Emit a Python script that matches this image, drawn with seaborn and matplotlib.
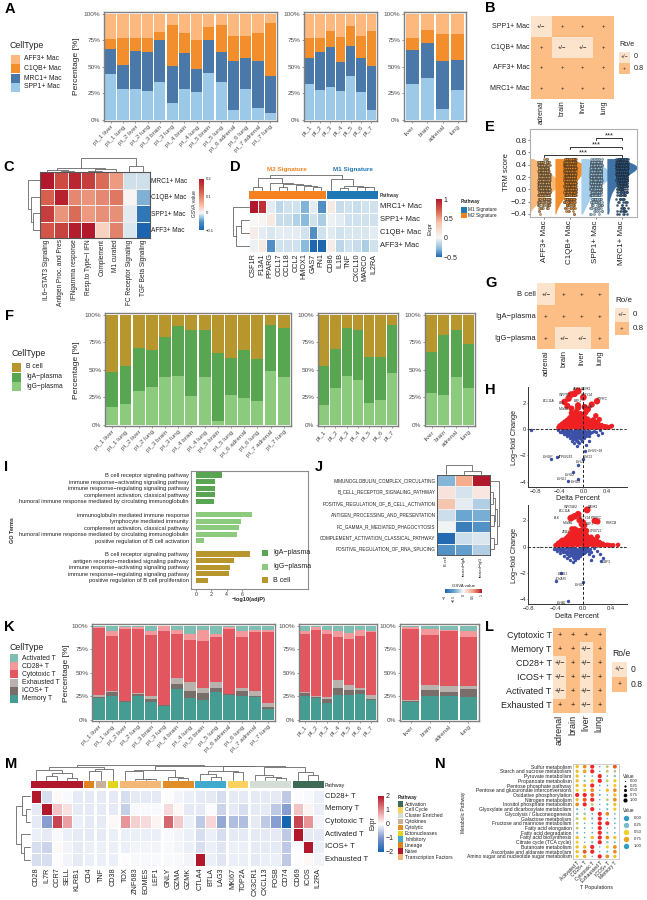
import numpy as np
import pandas as pd
import matplotlib
matplotlib.use("Agg")
import matplotlib.pyplot as plt
import seaborn as sns
from matplotlib.colors import LinearSegmentedColormap
from matplotlib.patches import Rectangle

W, H = 647, 900

# ---------- sample labels ----------
PT_TISSUE = ["pt_1 liver", "pt_1 lung", "pt_2 liver", "pt_2 lung", "pt_3 brain", "pt_3 lung", "pt_4 brain",
             "pt_4 lung", "pt_5 brain", "pt_5 lung", "pt_6 adrenal", "pt_6 lung", "pt_7 adrenal", "pt_7 lung"]
PATIENTS = ["pt_1", "pt_2", "pt_3", "pt_4", "pt_5", "pt_6", "pt_7"]
TISSUES = ["liver", "brain", "adrenal", "lung"]
RO_COLS = ["adrenal", "brain", "liver", "lung"]

# ---------- A: macrophage composition, cumulative tops from the bottom ----------
MAC_NAMES = ["SPP1+ Mac", "MRC1+ Mac", "C1QB+ Mac", "AFF3+ Mac"]
MAC_COLORS = ["#9DC9E8", "#4A78A8", "#F28E2B", "#FDB97D"]
A_SPP1 = [43, 29, 29, 27, 36, 16, 29, 26, 44, 36, 9, 29, 11, 6]
A_MRC1 = [67, 52, 65, 64, 75, 51, 63, 48, 75, 64, 55, 58, 55, 41]
A_C1QB = [76, 77, 77, 77, 83, 89, 82, 75, 87, 89, 79, 79, 82, 91]
A_PAT_SPP1 = [34, 28, 31, 27, 41, 26, 9]
A_PAT_MRC1 = [58, 64, 69, 54, 70, 58, 51]
A_PAT_C1QB = [77, 77, 84, 78, 88, 79, 84]
A_TIS_SPP1 = [34, 39, 10, 28]
A_TIS_MRC1 = [66, 72, 55, 56]
A_TIS_C1QB = [77, 85, 81, 81]

# ---------- F: B lineage composition ----------
B_NAMES = ["IgG\u2212plasma", "IgA\u2212plasma", "B cell"]
B_COLORS = ["#8CCB7E", "#58A552", "#B8962E"]
F_IGG = [16, 18.5, 31, 34.5, 43.5, 44.5, 26, 43, 3, 27, 24.5, 21.5, 49, 43]
F_IGA = [48, 53, 70, 68, 80, 89.5, 86.5, 86, 65.5, 60.5, 67.5, 60, 91, 87.5]
F_PAT_IGG = [18, 33.5, 44.5, 41, 20, 22, 47]
F_PAT_IGA = [53, 69, 87.5, 86.5, 62, 62, 90.5]
F_TIS_IGG = [29, 26.6, 43, 33]
F_TIS_IGA = [66, 81.6, 86, 73]

# ---------- K: T cell composition ----------
T_NAMES = ["Memory T", "ICOS+ T", "Exhausted T", "Cytotoxic T", "CD28+ T", "Activated T"]
T_COLORS = ["#459C92", "#7A6E6B", "#B9B1AB", "#E2565F", "#F4999B", "#7FBFB3"]
K_MEM = [23, 25, 19, 25, 19, 14.5, 33, 23, 21, 30, 26, 25, 24, 12]
K_ICOS = [24, 30, 20, 27, 22, 15.5, 38, 31, 28, 34, 27, 31, 25, 13.5]
K_EXH = [26, 31, 20.5, 28, 25, 15.8, 44, 40, 34, 40, 27.5, 34, 31, 17.7]
K_CYT = [97.5, 89, 96, 96, 90, 94, 91, 85, 84, 88, 96, 87.5, 93.5, 93.5]
K_CD28 = [98.5, 94, 98, 98, 94, 99, 95, 91, 95, 91, 98, 94, 95, 95]
K_PAT_MEM = [25.5, 23.3, 18.4, 26, 26, 27, 21]
K_PAT_ICOS = [28, 24.3, 22.5, 34, 32, 31.7, 22]
K_PAT_EXH = [30, 25.7, 24, 42, 37, 34, 26]
K_PAT_CYT = [90.5, 95.5, 91, 88, 86, 88.5, 93]
K_PAT_CD28 = [94.5, 98, 95, 94, 92, 95, 94.5]
K_TIS_MEM = [19, 25.5, 25, 24]
K_TIS_ICOS = [20, 32, 30, 33]
K_TIS_EXH = [21, 37, 36, 36]
K_TIS_CYT = [96, 90, 94, 88]
K_TIS_CD28 = [98, 96.5, 95, 94]

# ---------- Ro/e tables ----------
B_ROWS = ["SPP1+ Mac", "C1QB+ Mac", "AFF3+ Mac", "MRC1+ Mac"]
B_GRID = [["+/\u2212", "+", "+", "+"], ["+", "+/\u2212", "+/\u2212", "+"], ["+", "+", "+", "+"], ["+", "+", "+", "+"]]
G_ROWS = ["B cell", "IgA\u2212plasma", "IgG\u2212plasma"]
G_GRID = [["+/\u2212", "+", "+", "+"], ["+", "+", "+", "+"], ["+", "+/\u2212", "+/\u2212", "+"]]
L_ROWS = ["Cytotoxic T", "Memory T", "CD28+ T", "ICOS+ T", "Activated T", "Exhausted T"]
L_GRID = [["+", "+", "+", "+"], ["+", "+", "+/\u2212", "+"], ["+/\u2212", "+", "+/\u2212", "+"],
          ["+/\u2212", "+", "+/\u2212", "+"], ["+/\u2212", "+", "+/\u2212", "+"], ["+", "+", "+/\u2212", "+"]]

# ---------- C ----------
C_ROWS = ["MRC1+ Mac", "C1QB+ Mac", "SPP1+ Mac", "AFF3+ Mac"]
C_COLS = ["IL6\u2212STAT3 Signaling", "Antigen Proc. and Pres", "IFNgamma response", "Resp.to Type\u2212I IFN",
          "Complement", "M1 curated", "FC Receptor Signaling", "TGF Beta Signaling"]
C_VALUES = [[.2, .145, .185, .16, .115, .075, -.012, -.012],
            [.125, .19, .09, .08, .09, .105, .002, -.035],
            [.16, .08, .115, .075, .085, .085, -.006, -.08],
            [.135, .155, .195, .2, .03, .095, -.008, -.1]]

# ---------- D ----------
D_ROWS = ["MRC1+ Mac", "SPP1+ Mac", "C1QB+ Mac", "AFF3+ Mac"]
D_COLS = ["CSF1R", "F13A1", "PPARG", "CCL17", "CCL18", "CCL2", "HMOX1", "GAS7", "FN1",
          "CD86", "IL1B", "TNF", "CXCL10", "MARCO", "IL2RA"]
D_VALUES = [[1, .9, -.05, -.15, -.1, -.1, -.3, -.05, -.4, .1, -.12, -.1, -.12, -.1, -.1],
            [0, .02, .1, -.12, -.12, -.18, -.28, -.1, -.2, -.03, -.05, -.1, -.1, -.1, -.1],
            [.08, -.05, -.08, -.05, -.05, -.05, -.1, -.4, -.1, -.06, -.1, -.08, -.08, -.08, -.05],
            [-.03, .1, -.4, -.1, -.1, -.1, -.28, -.5, -.6, .08, -.15, -.1, -.12, -.2, -.1]]

# ---------- E: counts of cells per TRM score level, read from the clouds ----------
E_CATS = ["AFF3+ Mac", "C1QB+ Mac", "SPP1+ Mac", "MRC1+ Mac"]
E_COLORS = ["#F8B878", "#F28E2B", "#A5CFEC", "#3F72A6"]
E_DOTS = ["#D2A05F", "#DE8526", "#9CC3DE", "#2C5A88"]
E_LEVELS = [-.40, -.35, -.30, -.25, -.20, -.15, -.10, -.05, 0, .05, .10, .15, .20, .25, .30, .35, .40, .45, .50]
E_AFF3 = [1, 2, 8, 14, 20, 28, 36, 42, 50, 58, 62, 58, 50, 42, 36, 30, 26, 22, 4]
E_C1QB = [2, 4, 8, 12, 18, 24, 30, 36, 42, 50, 56, 62, 68, 74, 82, 86, 84, 80, 30]
E_SPP1 = [4, 6, 10, 12, 16, 20, 24, 28, 34, 40, 48, 56, 64, 68, 62, 50, 42, 36, 8]
E_MRC1 = [5, 8, 6, 4, 6, 8, 10, 14, 18, 24, 30, 38, 48, 60, 76, 88, 84, 64, 20]
E_BRACKETS = [(0, 3, .556), (1, 3, .686), (2, 3, .83)]

# ---------- H ----------
H1_RED = [(-.09, 2.87), (-.15, 2.67), (-.21, 2.6), (-.25, 2.3), (-.32, 2.05), (0, 2.4), (.14, 1.85), (.23, 2.1),
          (-.27, 1.75), (-.2, 1.55), (-.09, 1.8), (-.09, 1.6), (.02, 1.67), (.08, 1.5), (.03, 1.2), (.21, 1.0),
          (.27, .72), (-.2, 1.2), (.48, .22), (.39, .18), (-.12, 1.3), (.05, 1.35), (-.05, 1.15),
          (-.42, .12), (-.4, .25), (-.38, .18), (-.36, .38), (-.34, .12), (-.32, .3), (-.31, .55), (-.29, .15),
          (-.28, .42), (-.27, .68), (-.25, .22), (-.24, .52), (-.23, .85), (-.21, .12), (-.2, .36), (-.19, .66),
          (-.18, .95), (-.16, .2), (-.15, .5), (-.14, .8), (-.13, 1.02), (-.11, .12), (-.1, .35), (-.09, .62),
          (-.08, .9), (-.06, .22), (-.05, .48), (-.04, .75), (-.03, 1.0), (-.01, .14), (0, .38), (.01, .65),
          (.02, .88), (.04, .24), (.05, .5), (.07, .76), (.09, .12), (.1, .38), (.12, .62), (.14, .2), (.15, .44),
          (.17, .7), (.19, .12), (.2, .3), (.22, .52), (.24, .18), (.26, .36), (.29, .14), (.31, .28), (.34, .12),
          (.36, .2), (.42, .12), (.45, .16),
          (-.41, .08), (-.39, .1), (-.37, .3), (-.35, .22), (-.33, .45), (-.3, .1), (-.28, .28), (-.26, .55),
          (-.24, .34), (-.22, .7), (-.22, .1), (-.2, .5), (-.18, .25), (-.17, .78), (-.15, .12), (-.14, .36),
          (-.12, .62), (-.11, .9), (-.09, .22), (-.08, .48), (-.07, .75), (-.05, .1), (-.04, .34), (-.02, .6),
          (-.02, .88), (0, .14), (.01, .45), (.03, .72), (.04, .1), (.06, .34), (.08, .6), (.1, .2), (.11, .5),
          (.13, .1), (.15, .3), (.17, .52), (.18, .2), (.21, .12), (.23, .38), (.25, .1), (.28, .24), (.33, .2),
          (.38, .1), (.4, .14)]
H1_BLUE = [(-.17, -3.3), (-.26, -3.95), (-.09, -3.8), (-.55, -2.3), (-.09, -2.7), (0, -2.3), (-.45, -2.1),
           (.03, -1.7), (-.88, -.08), (.24, -.45), (.32, -.3), (.05, -1.25), (.1, -.9), (-.42, -.1), (-.38, -.25),
           (-.35, -.12), (-.33, -.4), (-.3, -.2), (-.28, -.55), (-.26, -.3), (-.25, -.12), (-.23, -.7), (-.22, -.45),
           (-.2, -.2), (-.19, -.9), (-.18, -.6), (-.17, -.35), (-.15, -1.1), (-.14, -.75), (-.13, -.5), (-.12, -.15),
           (-.11, -1.3), (-.1, -.9), (-.09, -.6), (-.08, -.3), (-.07, -1.05), (-.06, -.72), (-.05, -.42), (-.04, -.15),
           (-.03, -.95), (-.02, -.6), (-.01, -.3), (.01, -.72), (.02, -.42), (.03, -.15), (.05, -.55), (.06, -.25),
           (.08, -.38), (.1, -.14), (.12, -.3), (.15, -.2), (.18, -.12), (.22, -.25), (.28, -.1),
           (-.4, -.2), (-.36, -.08), (-.34, -.22), (-.32, -.1), (-.3, -.38), (-.28, -.18), (-.27, -.08), (-.25, -.45),
           (-.24, -.25), (-.22, -.1), (-.21, -.6), (-.2, -.36), (-.19, -.14), (-.18, -.75), (-.17, -.48), (-.16, -.22),
           (-.15, -.6), (-.15, -.35), (-.14, -.1), (-.13, -.85), (-.12, -.65), (-.12, -.38), (-.11, -.22), (-.1, -.48),
           (-.1, -.1), (-.09, -1.0), (-.09, -.35), (-.08, -.72), (-.08, -.15), (-.07, -.52), (-.06, -.3), (-.05, -.6),
           (-.05, -.1), (-.04, -.78), (-.03, -.42), (-.02, -.22), (-.01, -.52), (0, -.12), (.01, -.35), (.03, -.5),
           (.04, -.28), (.07, -.14), (.09, -.5)]
H1_FLAT = [-.88, -.8, -.72, -.62, -.55, -.5, -.46, .48, .52, .56, .62]
H1_GENES = [("AFF3", -.13, 3.0), ("BANK1", .05, 3.05), ("INPP5D", -.31, 2.6), ("SPTY14", .06, 2.6), ("BCL11A", -.58, 2.15),
            ("EBF1", -.1, 2.1), ("BLK", -.36, 2.0), ("PTPRC", .32, 2.25), ("MS4A1", -.33, 1.55), ("FCRLA", .07, 1.7),
            ("IGHV1\u221218", .21, -1.7), ("IGHGP", -.6, -2.1), ("ATP6V1E1", -.31, -2.1), ("IGKJ3", .09, -2.1),
            ("IGHJ4", -.05, -2.5), ("IGHG2", -.22, -3.5), ("IGHG1", -.37, -3.8), ("IGHG3", -.12, -4.0)]
H2_RED = [(.06, 2.78), (-.07, 2.45), (-.16, 2.2), (-.12, 2.3), (-.18, 2.15), (-.05, 2.0), (0, 1.83), (.17, 1.95), (.21, 1.9),
          (-.16, 1.33), (-.12, 1.33), (0, 1.33), (.05, 1.2), (.21, .75), (.51, .13), (-.02, 1.7), (.02, 1.6),
          (-.4, .1), (-.37, .2), (-.35, .12), (-.33, .33), (-.31, .15), (-.3, .5), (-.28, .28), (-.26, .12), (-.25, .6),
          (-.24, .4), (-.22, .2), (-.21, .8), (-.2, .58), (-.19, .36), (-.18, 1.0), (-.17, .14), (-.16, .75), (-.15, .5),
          (-.14, 1.1), (-.13, .28), (-.12, .9), (-.11, .64), (-.1, 1.25), (-.09, .14), (-.08, 1.0), (-.07, .42), (-.06, .76),
          (-.05, 1.2), (-.04, .22), (-.03, .94), (-.02, .56), (-.01, 1.1), (0, .3), (.01, .8), (.02, 1.0), (.03, .14),
          (.04, .55), (.05, .86), (.06, .34), (.08, .68), (.09, .14), (.1, .48), (.12, .72), (.13, .24), (.15, .55),
          (.17, .12), (.18, .36), (.2, .45), (.22, .16), (.24, .34), (.27, .12), (.29, .22), (.33, .1), (.38, .12), (.44, .1),
          (-.38, .1), (-.36, .28), (-.34, .18), (-.32, .42), (-.29, .1), (-.27, .45), (-.25, .25), (-.23, .68), (-.22, .1),
          (-.2, .42), (-.18, .72), (-.17, .28), (-.15, .9), (-.14, .12), (-.13, .62), (-.12, .4), (-.1, .82), (-.1, .22),
          (-.08, .58), (-.07, .12), (-.06, .95), (-.05, .34), (-.04, .66), (-.02, .16), (-.02, .8), (0, .5), (.01, .12),
          (.03, .4), (.04, .7), (.06, .12), (.07, .5), (.08, .26), (.11, .3), (.12, .5), (.14, .12), (.16, .35), (.19, .2),
          (.21, .3), (.23, .1), (.26, .2), (.3, .12), (.35, .14), (.41, .08)]
H2_BLUE = [(.26, -1.1), (.29, -.88), (-.39, -2.6), (-.32, -2.0), (0, -2.7), (-.22, -4.1), (-.42, -.15), (-.38, -.3),
           (-.35, -.12), (-.33, -.5), (-.3, -.25), (-.28, -.7), (-.26, -.38), (-.25, -.14), (-.23, -.85), (-.22, -.5),
           (-.2, -.22), (-.19, -1.05), (-.18, -.66), (-.17, -.38), (-.15, -1.2), (-.14, -.8), (-.13, -.5), (-.12, -.15),
           (-.11, -1.0), (-.1, -.65), (-.09, -.35), (-.08, -.85), (-.07, -.55), (-.06, -.2), (-.05, -.75), (-.04, -.4),
           (-.03, -.14), (-.02, -.6), (0, -.3), (.02, -.5), (.03, -.14), (.05, -.35), (.08, -.55), (.1, -.2), (.14, -.7),
           (.16, -.14), (.2, -.3), (.12, -1.0), (.24, -.6),
           (-.4, -.22), (-.37, -.1), (-.34, -.25), (-.31, -.12), (-.29, -.4), (-.27, -.2), (-.24, -.55), (-.23, -.3),
           (-.21, -.12), (-.2, -.7), (-.19, -.42), (-.18, -.18), (-.16, -.6), (-.16, -.28), (-.15, -.1), (-.14, -.4),
           (-.13, -.9), (-.12, -.62), (-.12, -.32), (-.1, -.85), (-.1, -.15), (-.09, -.52), (-.08, -.25), (-.07, -.72),
           (-.06, -.42), (-.05, -.12), (-.04, -.6), (-.03, -.28), (-.01, -.45), (-.01, -.14), (.01, -.25), (.03, -.4),
           (.04, -.2), (.06, -.12), (.07, -.32), (.11, -.4)]
H2_FLAT = [-.72, -.62, -.56, -.5, -.46, .42, .48, .55, .6]
H2_GENES = [("INPOSE2", -.17, 3.0), ("BANK1", .15, 3.0), ("BCL11A", -.27, 2.7), ("BLK", -.38, 2.2), ("SPTY14", .02, 2.2),
            ("PTPRC", .2, 2.15), ("MS4A1", -.21, 1.8), ("EBF1", .1, 1.7), ("PRKCB", .41, 1.8), ("CHST11", .19, 1.2),
            ("ZEB2", -.26, 1.1), ("XBP1", .33, -1.15), ("IGHG1", -.29, -2.1), ("JCHAIN", -.34, -2.45), ("IGHG3", -.04, -2.9),
            ("IGHA1", -.31, -4.25)]

# ---------- I ----------
I_TERMS = ["B cell receptor signaling pathway", "immune response\u2212activating signaling pathway",
           "immune response\u2212regulating signaling pathway", "complement activation, classical pathway",
           "humoral immune response mediated by circulating immunoglobulin",
           "immunoglobulin mediated immune response", "lymphocyte mediated immunity",
           "complement activation, classical pathway", "humoral immune response mediated by circulating immunoglobulin",
           "positive regulation of B cell activation",
           "B cell receptor signaling pathway", "antigen receptor\u2212mediated signaling pathway",
           "immune response\u2212activating signaling pathway", "immune response\u2212regulating signaling pathway",
           "positive regulation of B cell proliferation"]
I_VALUES = [3.4, 2.5, 2.5, 2.5, 2.3, 7.3, 5.9, 5.6, 5.3, 1.0, 7.0, 5.0, 4.4, 4.3, 1.6]
I_GROUP = ["IgA\u2212plasma"] * 5 + ["IgG\u2212plasma"] * 5 + ["B cell"] * 5
I_ROW = [0, 1, 2, 3, 4, 6, 7, 8, 9, 10, 12, 13, 14, 15, 16]

# ---------- J ----------
J_ROWS = ["IMMUNOGLOBULIN_COMPLEX_CIRCULATING", "B_CELL_RECEPTOR_SIGNALING_PATHWAY",
          "POSITIVE_REGULATION_OF_B_CELL_ACTIVATION", "ANTIGEN_PROCESSING_AND_PRESENTATION",
          "FC_GAMMA_R_MEDIATED_PHAGOCYTOSIS", "COMPLEMENT_ACTIVATION_CLASSICAL_PATHWAY",
          "POSITIVE_REGULATION_OF_RNA_SPLICING"]
J_COLS = ["B cell", "treated\u2212IgA", "treated\u2212IgG"]
J_VALUES = [[-.4, .45, 1], [.12, -.12, .1], [.3, -.07, -.25], [-.15, -.5, -.45],
            [-.02, -.8, -.65], [-.95, -.15, -.1], [-.65, -.55, -.25]]

# ---------- M ----------
M_ROWS = ["CD28+ T", "Memory T", "Cytotoxic T", "Activated T", "ICOS+ T", "Exhausted T"]
M_COLS = ["CD28", "IL7R", "CCR7", "SELL", "KLRB1", "CD4", "TNF", "CD38", "TOX", "ZNF683", "EOMES", "LEF1",
          "GNLY", "GZMA", "GZMK", "CTLA4", "BTLA", "LAG3", "MKI67", "TOP2A", "CX3CR1", "CXCL13", "FOSB", "CD74",
          "CD69", "ICOS", "IL2RA"]
M_GROUP_SIZES = [5, 1, 1, 1, 4, 3, 3, 2, 4, 3]
M_GROUP_COLORS = ["#B2182B", "#E0821E", "#C9B096", "#E3D31B", "#F3B875", "#E08E27", "#3FA9CE", "#FBD25E", "#D5DDD7", "#3E6B55"]
M_VALUES = [[2, -.3, .05, -.05, -.2, -.2, -.2, -.2, -.3, -.2, -.2, -.2, -.03, -.1, -.15, -.2, -.2, -.3, -.2, -.2, -.2, -.2, -.2, -.5, -.03, -.05, -.15],
            [-.2, 2, .5, .25, -.2, -.2, -.2, -.2, -.45, -.05, -.05, -.05, .3, .07, -.2, -.2, -.02, -.4, -.2, -.3, -.2, -.2, -.5, -.9, .5, .1, -.15],
            [-.2, -.9, 1.6, .8, -.15, -.2, -.2, .07, .9, .4, .3, .1, 1.3, .45, -.15, -.5, .35, -.8, -.6, -.6, -.2, -.5, -.9, -2, 1.6, .9, -.1],
            [-.15, -.2, -.05, -.15, -.2, -.2, -.2, -.15, -.15, -.15, -.15, -.15, -.05, -.1, -.15, -.3, -.15, -.3, -.2, -.2, -.2, -.2, -.2, -.5, 2, -.2, -.2],
            [-.3, -.4, .05, -.1, -.2, -.15, -.15, -.15, -.15, -.1, -.1, -.1, -.05, -.1, -.15, -.3, -.15, -.25, -.15, -.15, -.2, -.2, -.2, -.5, -.03, 2, -.15],
            [-.3, -.3, -.03, -.1, -.2, -.15, -.15, -.15, .03, -.05, -.05, -.05, -.05, -.05, -.1, 2, -.15, -.25, -.15, -.15, -.2, -.15, -.15, -.5, .03, .07, -.1]]
M_LEGEND = ["Activation", "Cell Cycle", "Cluster Enriched", "Cytokines", "Cytolytic", "Ectonucleases", "Inhibitory",
            "Lineage", "Naive", "Transcription Factors"]
M_LEGEND_COLORS = ["#3E6B55", "#FBD25E", "#D5DDD7", "#C9B096", "#E08E27", "#E3D31B", "#3FA9CE", "#E0821E", "#B2182B", "#F3B875"]

# ---------- N ----------
N_PATHWAYS = ["Sulfur metabolism", "Starch and sucrose metabolism", "Pyruvate metabolism", "Propanoate metabolism",
              "Pentose phosphate pathway", "Pentose and glucuronate interconversions", "Oxidative phosphorylation",
              "Nitrogen metabolism", "Inositol phosphate metabolism", "Glyoxylate and dicarboxylate metabolism",
              "Glycolysis / Gluconeogenesis", "Galactose metabolism", "Fructose and mannose metabolism",
              "Fatty acid elongation", "Fatty acid degradation", "Fatty acid biosynthesis", "Citrate cycle (TCA cycle)",
              "Butanoate metabolism", "Ascorbate and aldarate metabolism", "Amino sugar and nucleotide sugar metabolism"]
N_POPS = ["Activated T", "CD28+ T", "Cytotoxic T", "Exhausted T", "ICOS+ T", "Memory T"]
N_VALUES = [[.6, .8, 1, .05, .4, .9], [.6, .75, 1, .05, .4, .35], [.6, .1, .1, 1, .1, .3], [.6, .3, .6, 1, .4, .55],
            [.6, .6, 1, .1, .1, .55], [.5, .6, .8, .05, .6, .8], [1, 1, .9, .2, .05, .6], [.6, .9, 1, .05, .4, .8],
            [.8, 1, .4, .05, .25, .6], [.2, .05, 1, .05, .2, .55], [.3, .35, .1, 1, .8, .1], [.4, .5, .2, 1, .1, .1],
            [.4, .05, .1, 1, 1, .1], [.4, .1, .05, 1, .05, .1], [.2, .05, .1, 1, .2, .1], [.6, .1, .6, 1, .8, .6],
            [.5, .05, .3, 1, .3, .1], [.6, .6, 1, .05, .5, .8], [.6, .9, 1, .05, .2, .8], [.5, .7, .05, 1, .8, .6]]
N_LEGEND = [0, .25, .5, .75, 1]

# ---------- dendrogram shapes: (left, right, height in px) ----------
C_COL_TREE = ((((0, (1, 2, 1.5), 2.2), ((3, 4, 1.5), 5, 3), 4.3)), (6, 7, 6), 14)
C_ROW_TREE = (0, (1, (2, 3, 7), 9.5), 12)
D_COL_TREE = (((0, 1, 3.5), (2, ((3, 4, 3), (5, (6, (7, 8, 3.5), 4.5), 5.5), 6), 7), 12.5),
              (9, ((10, 11, 2.5), (12, (13, 14, 3.2), 3), 3.8), 11), 15)
D_ROW_TREE = (0, ((1, 2, 7.7), 3, 12.7), 16)
J_COL_TREE = (0, (1, 2, 4.5), 10)
J_ROW_TREE = (0, (((1, 2, 3), (3, 4, 3.5), 5), (5, 6, 4), 7), 9)
M_COL_TREE = (((0, ((1, 2, 4.5), (3, 4, 2.5), 7), 10), ((5, 6, 9), 7, 11), 13),
              (((8, (9, (10, 11, 1), 1.5), 9), (12, (13, 14, 2.5), 3.5), 10.5),
               (((15, (16, 17, 3), 6.5), (18, 19, 8), 9.5),
                ((20, (21, (22, 23, 2.5), 3.5), 5), (24, (25, 26, 5), 8), 13), 14), 14.5), 15)
M_ROW_TREE = ((0, (1, 2, 4.5), 8.5), (3, (4, 5, 6.5), 9), 14)

# ---------- setup ----------
sns.set_style("white")
plt.rcParams["font.family"] = ["Liberation Sans", "DejaVu Sans"]
plt.rcParams["axes.unicode_minus"] = True

fig = plt.figure(figsize=(W / 100, H / 100), dpi=100)
page = fig.add_axes([0, 0, 1, 1], zorder=10)
page.set_xlim(0, W)
page.set_ylim(H, 0)
page.axis("off")


def px_ax(x0, y0, x1, y1):
    return fig.add_axes([x0 / W, 1 - y1 / H, (x1 - x0) / W, (y1 - y0) / H])


def put(x, y, s, size=5, ha="left", va="center", **kw):
    page.text(x, y, s, fontsize=size, ha=ha, va=va, **kw)


def box(x, y, w, h, color):
    page.add_patch(Rectangle((x, y), w, h, facecolor=color, edgecolor="none"))


def dendro(node, leaves, base, sign, horizontal=False):
    # nested (left, right, height) -> connector lines on the page axes
    if isinstance(node, int):
        return leaves[node], 0
    p0, h0 = dendro(node[0], leaves, base, sign, horizontal)
    p1, h1 = dendro(node[1], leaves, base, sign, horizontal)
    h = node[2]
    a = [p0, p0, p1, p1]
    b = [base + sign * h0, base + sign * h, base + sign * h, base + sign * h1]
    if horizontal:
        page.plot(b, a, color="#666666", lw=0.6, solid_joinstyle="miter")
    else:
        page.plot(a, b, color="#666666", lw=0.6, solid_joinstyle="miter")
    return (p0 + p1) / 2, h


def stacked(rect, labels, tops, names, colors, size=4.6):
    ax = px_ax(*rect)
    layers = list(tops) + [[100] * len(labels)]
    long = pd.DataFrame({"sample": labels * len(names),
                         "cell": [n for n in names for _ in labels],
                         "top": [v for layer in layers for v in layer]})
    sns.barplot(data=long, x="sample", y="top", hue="cell", order=labels, hue_order=names[::-1],
                palette=dict(zip(names, colors)), dodge=False, width=0.9, saturation=1, linewidth=0,
                errorbar=None, legend=False, ax=ax)
    ax.set_xlim(-0.55, len(labels) - 0.45)
    ax.set_ylim(-1.2, 101.6)
    ax.set_yticks([0, 25, 50, 75, 100], ["0%", "25%", "50%", "75%", "100%"])
    ax.set_xlabel("")
    ax.set_ylabel("")
    ax.tick_params(axis="both", labelsize=size, labelcolor="#4D4D4D", length=1.5, width=0.4,
                   color="#4D4D4D", pad=1, left=True, bottom=True)
    plt.setp(ax.get_xticklabels(), rotation=45, ha="right", rotation_mode="anchor")
    for s in ax.spines.values():
        s.set_color("#7F7F7F")
        s.set_linewidth(1.0)
    return ax


def ro_table(rect, rows, grid, size, plus):
    ax = px_ax(*rect)
    values = [[0 if c != "+" else 0.8 for c in row] for row in grid]
    sns.heatmap(values, ax=ax, cmap=RO_CMAP, vmin=0, vmax=0.8, cbar=False, annot=np.array(grid), fmt="",
                annot_kws={"fontsize": plus, "color": "#111111"}, xticklabels=RO_COLS, yticklabels=rows)
    ax.tick_params(length=0, labelsize=size, pad=1, labelcolor="#222222")
    plt.setp(ax.get_xticklabels(), rotation=90, ha="center")
    plt.setp(ax.get_yticklabels(), rotation=0)
    return ax


def ro_legend(x, ytitle, y0, side, size):
    put(x, ytitle, "Ro/e", size=size, color="#222222")
    box(x, y0, side, side, RO_LOW)
    box(x, y0 + side, side, side, RO_HIGH)
    put(x + side / 2, y0 + side / 2, "+/\u2212", size=size - 1.4, ha="center")
    put(x + side / 2, y0 + side * 1.5, "+", size=size - 1.4, ha="center")
    put(x + side + 4, y0 + side / 2, "0", size=size)
    put(x + side + 4, y0 + side * 1.5, "0.8", size=size)


def group_heatmap(values, cols, sizes, x0, cell, gap, y0, y1, cmap, vmin, vmax, cbar_ax, label_size, lw=0.5):
    values = np.array(values)
    start, x = 0, x0
    for k, n in enumerate(sizes):
        ax = px_ax(x, y0, x + n * cell, y1)
        sns.heatmap(values[:, start:start + n], ax=ax, cmap=cmap, vmin=vmin, vmax=vmax, linewidths=lw, linecolor="white",
                    xticklabels=cols[start:start + n], yticklabels=False, cbar=k == 0, cbar_ax=cbar_ax if k == 0 else None)
        ax.tick_params(length=0, labelsize=label_size, pad=1, labelcolor="#222222")
        plt.setp(ax.get_xticklabels(), rotation=90, ha="center")
        start += n
        x += n * cell + gap


def tidy_cbar(ax, ticks, labels, size, side="right"):
    if side == "right":
        ax.set_yticks(ticks, labels)
    else:
        ax.set_xticks(ticks, labels)
    ax.tick_params(length=0, labelsize=size, pad=1, labelcolor="#222222")
    for s in ax.spines.values():
        s.set_visible(False)


RO_LOW, RO_HIGH = "#FBE3CC", "#FDBE85"
RO_CMAP = LinearSegmentedColormap.from_list("roe", [RO_LOW, RO_HIGH])
HOT = LinearSegmentedColormap.from_list("c", [(0, "#1C64AF"), (1 / 6, "#4E94C6"), (1 / 3, "#F7F7F7"),
                                              (.5, "#F8B79B"), (.75, "#D6604D"), (1, "#B2182B")])
D_CMAP = LinearSegmentedColormap.from_list("d", [(0, "#1F68B0"), (.15, "#8DBEDD"), (1 / 3, "#F7F7F7"),
                                                 (.6, "#F8C2A8"), (.8, "#D6604D"), (1, "#B2182B")])
J_CMAP = LinearSegmentedColormap.from_list("j", ["#1C64AF", "#6AA6D0", "#F7F7F7", "#F6A582", "#B2182B"])
M_CMAP = LinearSegmentedColormap.from_list("m", ["#1565B0", "#7C94CB", "#FFFFFF", "#E58A8C", "#B2182B"])
N_CMAP = LinearSegmentedColormap.from_list("n", ["#2E9CC0", "#74BDCB", "#EFD026", "#E9A820", "#F0262A"])

# ---------- bars ----------
stacked((104, 12, 277, 121), PT_TISSUE, [A_SPP1, A_MRC1, A_C1QB], MAC_NAMES, MAC_COLORS)
stacked((304, 12, 377, 121), PATIENTS, [A_PAT_SPP1, A_PAT_MRC1, A_PAT_C1QB], MAC_NAMES, MAC_COLORS)
stacked((404, 12, 466, 121), TISSUES, [A_TIS_SPP1, A_TIS_MRC1, A_TIS_C1QB], MAC_NAMES, MAC_COLORS)
stacked((105, 313, 291, 426), PT_TISSUE, [F_IGG, F_IGA], B_NAMES, B_COLORS)
stacked((318, 313, 398, 426), PATIENTS, [F_PAT_IGG, F_PAT_IGA], B_NAMES, B_COLORS)
stacked((425, 313, 475, 426), TISSUES, [F_TIS_IGG, F_TIS_IGA], B_NAMES, B_COLORS)
stacked((92, 624, 275, 721), PT_TISSUE, [K_MEM, K_ICOS, K_EXH, K_CYT, K_CD28], T_NAMES, T_COLORS)
stacked((299, 624, 377, 721), PATIENTS, [K_PAT_MEM, K_PAT_ICOS, K_PAT_EXH, K_PAT_CYT, K_PAT_CD28], T_NAMES, T_COLORS)
stacked((400, 624, 479, 721), TISSUES, [K_TIS_MEM, K_TIS_ICOS, K_TIS_EXH, K_TIS_CYT, K_TIS_CD28], T_NAMES, T_COLORS)

put(77, 66, "Percentage [%]", size=6, ha="center", rotation=90, color="#222222")
put(77, 370, "Percentage [%]", size=6, ha="center", rotation=90, color="#222222")
put(67, 673, "Percentage [%]", size=6, ha="center", rotation=90, color="#222222")

for x_t, y_t, x_b, x_l, ys, names, colors, bs in [
    (10, 46, 11, 24, [59, 68, 78, 87], MAC_NAMES[::-1], MAC_COLORS[::-1], 9),
    (12, 353, 12, 26, [367, 377, 386], B_NAMES[::-1], B_COLORS[::-1], 9),
    (10, 647, 10, 22, [658, 666, 674, 683, 691, 699], T_NAMES[::-1], T_COLORS[::-1], 8),
]:
    put(x_t, y_t, "CellType", size=6.3, color="#222222")
    for y, n, c in zip(ys, names, colors):
        box(x_b, y - bs / 2, bs, bs, c)
        put(x_l, y, n, size=4.9, color="#222222")

# ---------- Ro/e ----------
ro_table((531, 16, 614, 99), B_ROWS, B_GRID, 5.0, 4.2)
ro_legend(619, 45, 51.5, 11, 5.2)
ro_table((537, 283, 609, 349), G_ROWS, G_GRID, 5.5, 4.6)
ro_legend(615, 300, 308, 13.5, 5.8)
ro_table((553, 628, 606, 713), L_ROWS, L_GRID, 6.5, 5.2)
ro_legend(612, 653, 662, 15, 6.2)

# ---------- C ----------
c_ax = px_ax(40, 172, 150, 238)
c_bar = px_ax(199, 179, 204, 230)
sns.heatmap(C_VALUES, ax=c_ax, cmap=HOT, vmin=-.1, vmax=.2, linewidths=.5, linecolor="#EEEEEE", cbar_ax=c_bar,
            xticklabels=C_COLS, yticklabels=C_ROWS)
c_ax.yaxis.tick_right()
c_ax.tick_params(length=0, labelsize=4.7, pad=1, labelcolor="#222222")
plt.setp(c_ax.get_xticklabels(), rotation=90, ha="center")
plt.setp(c_ax.get_yticklabels(), rotation=0)
for s in c_ax.spines.values():
    s.set_visible(True)
    s.set_color("#555555")
    s.set_linewidth(0.8)
tidy_cbar(c_bar, [-.1, 0, .1, .2], ["\u22120.1", "0", "0.1", "0.2"], 3.0)
put(194, 204, "GSVA value", size=3.6, ha="center", rotation=90)
dendro(C_COL_TREE, [40 + 110 * (i + .5) / 8 for i in range(8)], 172, -1)
dendro(C_ROW_TREE, [172 + 66 * (i + .5) / 4 for i in range(4)], 40, -1, horizontal=True)

# ---------- D ----------
d_bar = px_ax(436, 199, 442, 257)
group_heatmap(D_VALUES, D_COLS, [9, 6], 249, 8.5, 1.4, 200, 252, D_CMAP, -.5, 1, d_bar, 5.2)
tidy_cbar(d_bar, [-.5, 0, .5, 1], ["\u22120.5", "0", "0.5", "1"], 5.0)
box(249, 191, 9 * 8.5, 8, "#F5821F")
box(249 + 9 * 8.5 + 1.4, 191, 6 * 8.5, 8, "#1F77B4")
put(287, 169, "M2 Signature", size=4.6, ha="center", color="#F5821F", fontweight="bold")
put(353, 169, "M1 Signature", size=4.6, ha="center", color="#1F77B4", fontweight="bold")
put(380, 195, "Pathway", size=3.4, fontweight="bold", color="#333333")
for i, name in enumerate(D_ROWS):
    put(380, 200 + 52 * (i + .5) / 4, name, size=5.4, color="#222222")
put(430, 228, "Expr", size=4.6, ha="center", rotation=90, color="#222222")
put(461, 202, "Pathway", size=3.4, fontweight="bold", color="#222222")
box(461, 207, 6, 5.5, "#1F77B4")
box(461, 212.7, 6, 5.5, "#F5821F")
put(468, 209.7, "M1 Signature", size=3.4, color="#222222")
put(468, 215.5, "M2 Signature", size=3.4, color="#222222")
d_leaves = [249 + 8.5 * (i + .5) for i in range(9)] + [249 + 9 * 8.5 + 1.4 + 8.5 * (i + .5) for i in range(6)]
dendro(D_COL_TREE, d_leaves, 190, -1)
dendro(D_ROW_TREE, [200 + 52 * (i + .5) / 4 for i in range(4)], 249, -1, horizontal=True)

# ---------- E ----------
e_ax = px_ax(530, 129, 637, 217)
e_long = pd.DataFrame({
    "cat": np.repeat(E_CATS, [sum(E_AFF3), sum(E_C1QB), sum(E_SPP1), sum(E_MRC1)]),
    "score": np.concatenate([np.repeat(E_LEVELS, c) for c in (E_AFF3, E_C1QB, E_SPP1, E_MRC1)]),
})
e_long["side"] = "right"
# one half violin per group, so each keeps its own colour
for cat, fill in zip(E_CATS, E_COLORS):
    sns.violinplot(data=e_long[e_long["cat"] == cat], x="cat", y="score", order=E_CATS, hue="side",
                   hue_order=["left", "right"], palette={"left": fill, "right": fill}, saturation=1, split=True,
                   inner=None, cut=0, density_norm="width", width=1.16, linewidth=0, legend=False, ax=e_ax)
for cat, dot in zip(E_CATS, E_DOTS):
    sns.stripplot(data=e_long[e_long["cat"] == cat], x="cat", y="score", order=E_CATS, color=dot, jitter=.22, size=1.5,
                  linewidth=.2, edgecolor="#1A1A1A", legend=False, ax=e_ax)
for a, b, y in E_BRACKETS:
    e_ax.plot([a, a, b, b], [y - .03, y, y, y - .03], color="#333333", lw=.7)
    e_ax.text((a + b) / 2 if a else 1.5, y - .02, "***", fontsize=5.5, ha="center", va="bottom", color="#222222")
e_ax.set_xlim(-.54, 3.58)
e_ax.set_ylim(-.45, .98)
e_ax.set_yticks([-.4, -.2, 0, .2, .4, .6, .8], ["\u22120.4", "\u22120.2", "0.0", "0.2", "0.4", "0.6", "0.8"])
e_ax.set_xlabel("")
e_ax.set_ylabel("")
e_ax.tick_params(labelsize=5.8, length=1.5, width=.4, pad=1, left=True, bottom=True, labelcolor="#222222")
plt.setp(e_ax.get_xticklabels(), rotation=90, ha="center")
for s in e_ax.spines.values():
    s.set_color("#B0B0B0")
    s.set_linewidth(.8)
put(506, 172, "TRM score", size=5.6, ha="center", rotation=90, color="#222222")


# ---------- H ----------
def volcano(rect, red, blue, flat, genes, xlim, ylim, xy_label):
    ax = px_ax(*rect)
    r = pd.DataFrame(red, columns=["delta", "lfc"])
    b = pd.DataFrame(blue, columns=["delta", "lfc"])
    f = pd.DataFrame({"delta": flat, "lfc": 0.0})
    sns.scatterplot(data=f, x="delta", y="lfc", s=1, color="#555555", linewidth=0, ax=ax)
    sns.scatterplot(data=b, x="delta", y="lfc", s=6, color="#3C50A8", linewidth=0, ax=ax)
    sns.scatterplot(data=r, x="delta", y="lfc", size="lfc", sizes=(10, 26), size_norm=(0, 3), color="#EE2024",
                    linewidth=0, legend=False, ax=ax)
    ax.axhline(0, color="#222222", lw=.6, ls=(0, (3, 2)))
    ax.axvline(0, color="#222222", lw=.7, ls=(0, (3, 2)))
    for gene, gx, gy in genes:
        ax.text(gx, gy, gene, fontsize=2.3, style="italic", ha="center", va="center", color="#222222")
    ax.set_xlim(*xlim)
    ax.set_ylim(*ylim)
    ax.set_xticks([-.8, -.4, 0, .4], ["\u22120.8", "\u22120.4", "0.0", "0.4"])
    ax.set_yticks([-4, -2, 0, 2], ["\u22124", "\u22122", "0", "2"])
    ax.set_xlabel("")
    ax.set_ylabel("")
    ax.tick_params(labelsize=4.2, length=1, width=.4, pad=.5, left=True, bottom=True, labelcolor="#333333")
    sns.despine(ax=ax)
    for s in ("left", "bottom"):
        ax.spines[s].set_color("#333333")
        ax.spines[s].set_linewidth(.7)
    put(xy_label[0], xy_label[1], "Delta Percent", size=5.2, ha="center", color="#222222")
    put(515, xy_label[2], "Log\u2212fold Change", size=5.2, ha="center", rotation=90, color="#222222")


volcano((528, 387, 627, 487), H1_RED, H1_BLUE, H1_FLAT, H1_GENES, (-.934, .736), (-4.4, 3.18), (578, 499, 437))
volcano((528, 505, 627, 604), H2_RED, H2_BLUE, H2_FLAT, H2_GENES, (-.8, .64), (-4.35, 3.15), (577, 617, 555))

# ---------- I ----------
i_ax = px_ax(191, 471, 308, 589)
i_long = pd.DataFrame({"row": I_ROW, "value": I_VALUES, "group": I_GROUP})
i_palette = dict(zip(["IgA\u2212plasma", "IgG\u2212plasma", "B cell"], ["#58A552", "#8CCB7E", "#B8962E"]))
sns.barplot(data=i_long, y="row", x="value", hue="group", order=list(range(17)), orient="h", palette=i_palette,
            dodge=False, width=.78, saturation=1, linewidth=0, errorbar=None, legend=False, ax=i_ax)
i_ax.set_xlim(-.65, 14.6)
i_ax.set_ylim(17.3, -.6)
i_ax.set_yticks(I_ROW, I_TERMS)
i_ax.set_xticks([0, 2, 4, 6])
i_ax.set_xlabel("")
i_ax.set_ylabel("")
i_ax.tick_params(axis="y", length=0, labelsize=4.15, pad=1.5, labelcolor="#222222")
i_ax.tick_params(axis="x", length=1.2, width=.4, labelsize=3.8, pad=1, bottom=True, labelcolor="#333333")
for s in i_ax.spines.values():
    s.set_color("#8C8C8C")
    s.set_linewidth(.8)
put(12, 530, "GO Terms", size=3.9, ha="center", rotation=90, fontweight="bold")
put(249, 600, "\u2212log10(adjP)", size=4.1, ha="center", fontweight="bold")
for y, (name, col) in zip([553, 567, 580], i_palette.items()):
    box(262, y - 3, 6, 6, col)
    put(273, y, name, size=5, color="#222222")

# ---------- J ----------
j_ax = px_ax(437, 475, 490, 555)
j_bar = px_ax(445, 589, 482, 593)
sns.heatmap(J_VALUES, ax=j_ax, cmap=J_CMAP, vmin=-1, vmax=1, linewidths=.4, linecolor="#EEEEEE", cbar_ax=j_bar,
            cbar_kws={"orientation": "horizontal"}, xticklabels=J_COLS, yticklabels=J_ROWS)
j_ax.tick_params(length=0, labelsize=3.35, pad=1, labelcolor="#222222")
plt.setp(j_ax.get_xticklabels(), rotation=90, ha="center", fontsize=2.8)
plt.setp(j_ax.get_yticklabels(), rotation=0)
for s in j_ax.spines.values():
    s.set_visible(True)
    s.set_color("#555555")
    s.set_linewidth(.7)
tidy_cbar(j_bar, [-1, -.5, 0, .5, 1], ["\u22121", "\u22120.5", "0", "0.5", "1"], 2.6, side="bottom")
plt.setp(j_bar.get_xticklabels(), rotation=90)
put(464, 586, "GSVA value", size=3.2, ha="center")
dendro(J_COL_TREE, [437 + 53 * (i + .5) / 3 for i in range(3)], 475, -1)
dendro(J_ROW_TREE, [475 + 80 * (i + .5) / 7 for i in range(7)], 490, 1, horizontal=True)

# ---------- M ----------
m_bar = px_ax(378, 796, 384, 852)
group_heatmap(M_VALUES, M_COLS, M_GROUP_SIZES, 31, 10.3, 1.6, 790, 866, M_CMAP, -2, 2, m_bar, 5.2)
tidy_cbar(m_bar, [-2, -1, 0, 1, 2], ["\u22122", "\u22121", "0", "1", "2"], 5.0)
x, m_leaves = 31, []
for n, c in zip(M_GROUP_SIZES, M_GROUP_COLORS):
    box(x, 781, n * 10.3, 7, c)
    m_leaves += [x + 10.3 * (i + .5) for i in range(n)]
    x += n * 10.3 + 1.6
put(325, 785, "Pathway", size=3.8, color="#222222")
for i, name in enumerate(M_ROWS):
    put(325, 790 + 76 * (i + .5) / 6, name, size=5.5, color="#222222")
dendro(M_COL_TREE, m_leaves, 780, -1)
dendro(M_ROW_TREE, [790 + 76 * (i + .5) / 6 for i in range(6)], 30, -1, horizontal=True)
put(373, 823, "Expr", size=4.8, ha="center", rotation=90, color="#222222")
put(398, 797, "Pathway", size=3.4, fontweight="bold", color="#222222")
for i, (name, col) in enumerate(zip(M_LEGEND, M_LEGEND_COLORS)):
    box(398, 801 + i * 5.9, 5, 5.6, col)
    put(405, 804 + i * 5.9, name, size=3.6, color="#222222")

# ---------- N ----------
n_ax = px_ax(573, 764, 619, 859)
n_long = pd.DataFrame({"x": [j for _ in N_PATHWAYS for j in range(6)],
                       "y": [i for i in range(20) for _ in N_POPS],
                       "value": np.ravel(N_VALUES)})
sns.scatterplot(data=n_long, x="x", y="y", hue="value", size="value", palette=N_CMAP, hue_norm=(0, 1),
                size_norm=(0, 1), sizes=(.6, 9), linewidth=0, legend=False, ax=n_ax)
n_ax.set_xlim(-.55, 5.55)
n_ax.set_ylim(19.55, -.55)
n_ax.set_xticks(range(6), N_POPS)
n_ax.set_yticks(range(20), N_PATHWAYS)
n_ax.set_xlabel("")
n_ax.set_ylabel("")
n_ax.tick_params(length=0, labelsize=3.65, pad=1, labelcolor="#222222")
plt.setp(n_ax.get_xticklabels(), rotation=45, ha="right", rotation_mode="anchor")
for s in n_ax.spines.values():
    s.set_color("#CFCFCF")
    s.set_linewidth(.7)
put(596, 887, "T Populations", size=3.9, ha="center", color="#222222")
put(463, 812, "Metabolic Pathway", size=3.5, ha="center", rotation=90, color="#222222")
put(623, 776, "Value", size=3.3, color="#222222")
put(623, 810, "Value", size=3.3, color="#222222")
for i, v in enumerate(N_LEGEND):
    page.scatter(625, 781 + i * 4.7, s=.6 + 8.4 * v, color="black", linewidths=0)
    put(630, 781 + i * 4.7, f"{v:.2f}", size=3.0, color="#222222")
    page.scatter(626, 818 + i * 7.1, s=15, color=N_CMAP(v), linewidths=0)
    put(634, 818 + i * 7.1, f"{v:.2f}", size=3.0, color="#222222")

# ---------- panel letters ----------
for letter, x, y in [("A", 5, 9), ("B", 485, 8), ("C", 3, 167), ("D", 230, 167), ("E", 485, 127), ("F", 5, 316),
                     ("G", 485, 283), ("H", 485, 390), ("I", 4, 467), ("J", 315, 467), ("K", 4, 627), ("L", 485, 627),
                     ("M", 5, 764), ("N", 435, 764)]:
    put(x, y, letter, size=10.5, fontweight="bold", color="black")

fig.savefig("out.png", dpi=100)
